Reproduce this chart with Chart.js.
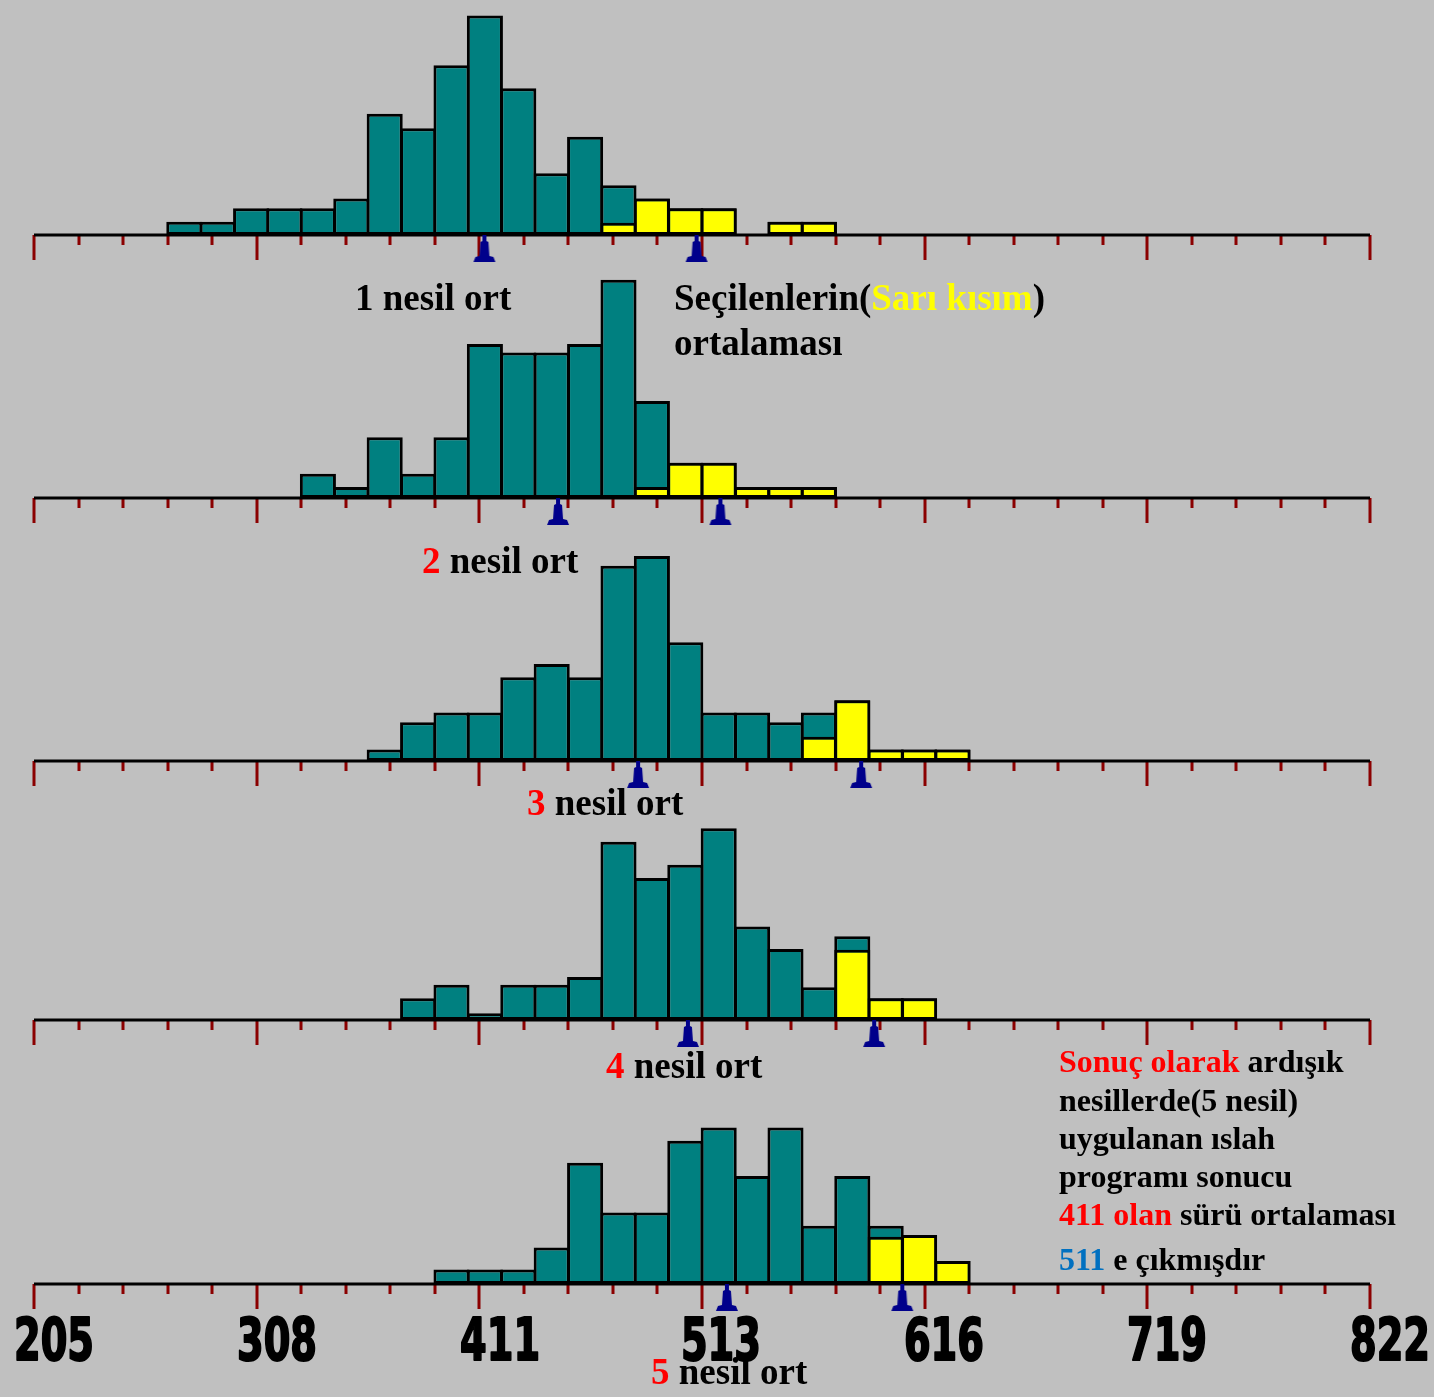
<!DOCTYPE html>
<html>
<head>
<meta charset="utf-8">
<title>Nesillere göre seleksiyon histogramları</title>
<script src="https://cdn.jsdelivr.net/npm/chart.js@4.4.1/dist/chart.umd.min.js"></script>
<style>
  html, body { margin: 0; padding: 0; }
  body {
    width: 1434px; height: 1397px; background: #c0c0c0;
    position: relative; overflow: hidden;
    font-family: "Liberation Serif", "Times New Roman", serif; font-weight: bold;
  }
  canvas { position: absolute; left: 0; }
  .lbl { position: absolute; white-space: nowrap; line-height: 1; color: #000; z-index: 5; }
  .big { font-size: 37px; }
  .small { font-size: 32px; }
  .red { color: #ff0000; }
  .yel { color: #ffff00; }
  .blue { color: #0070c0; }
</style>
</head>
<body>
<canvas id="gen1" width="1434" height="262" style="top:5px"></canvas>
<canvas id="gen2" width="1434" height="262" style="top:268px"></canvas>
<canvas id="gen3" width="1434" height="262" style="top:531px"></canvas>
<canvas id="gen4" width="1434" height="262" style="top:790px"></canvas>
<canvas id="gen5" width="1434" height="320" style="top:1054px"></canvas>

<div class="lbl big" style="left:355px;top:279px">1 nesil ort</div>
<div class="lbl big" style="left:674px;top:279px">Seçilenlerin(<span class="yel">Sarı kısım</span>)</div>
<div class="lbl big" style="left:674px;top:324px">ortalaması</div>
<div class="lbl big" style="left:422px;top:542px"><span class="red">2</span> nesil ort</div>
<div class="lbl big" style="left:527px;top:784px"><span class="red">3</span> nesil ort</div>
<div class="lbl big" style="left:606px;top:1047px"><span class="red">4</span> nesil ort</div>
<div class="lbl big" style="left:651px;top:1353px"><span class="red">5</span> nesil ort</div>

<div class="lbl small" style="left:1059px;top:1045px"><span class="red">Sonuç olarak</span> ardışık</div>
<div class="lbl small" style="left:1059px;top:1084px">nesillerde(5 nesil)</div>
<div class="lbl small" style="left:1059px;top:1122px">uygulanan ıslah</div>
<div class="lbl small" style="left:1059px;top:1160px">programı sonucu</div>
<div class="lbl small" style="left:1059px;top:1198px"><span class="red">411 olan</span> sürü ortalaması</div>
<div class="lbl small" style="left:1059px;top:1243px"><span class="blue">511</span> e çıkmışdır</div>

<script>
// x range of the histograms and number of bins
const xMin = 205, xMax = 822, binCount = 40;
const tickLabels = ["205", "308", "411", "513", "616", "719", "822"];

// bar heights per bin, first bin index = genNStart
// total = full bar height, selected = yellow part
const gen1Start = 4;
const gen1Total = [1.1, 1.1, 2.2, 2.2, 2.2, 3, 10, 8.8, 14, 18.1, 12.1, 5.1, 8.1, 4.1, 3, 2.2, 2.2, 0, 1.1, 1.1];
const gen1Selected = [0, 0, 0, 0, 0, 0, 0, 0, 0, 0, 0, 0, 0, 1, 3, 2.2, 2.2, 0, 1.1, 1.1];

const gen2Start = 8;
const gen2Total = [2, 0.9, 5, 2, 5, 12.7, 12, 12, 12.7, 18, 8, 2.9, 2.9, 0.9, 0.9, 0.9];
const gen2Selected = [0, 0, 0, 0, 0, 0, 0, 0, 0, 0, 0.9, 2.9, 2.9, 0.9, 0.9, 0.9];

const gen3Start = 10;
const gen3Total = [0.95, 3.2, 4, 4, 6.9, 8, 6.9, 16.1, 16.9, 9.8, 4, 4, 3.2, 4, 5, 0.95, 0.95, 0.95];
const gen3Selected = [0, 0, 0, 0, 0, 0, 0, 0, 0, 0, 0, 0, 0, 2, 5, 0.95, 0.95, 0.95];

const gen4Start = 11;
const gen4Total = [1.8, 2.9, 0.55, 2.9, 2.9, 3.55, 14.7, 11.7, 12.8, 15.8, 7.7, 5.85, 2.7, 6.9, 1.8, 1.8];
const gen4Selected = [0, 0, 0, 0, 0, 0, 0, 0, 0, 0, 0, 0, 0, 5.8, 1.8, 1.8];

const gen5Start = 12;
const gen5Total = [1.2, 1.2, 1.2, 3, 10, 5.9, 5.9, 11.8, 12.9, 8.9, 12.9, 4.8, 8.9, 4.8, 4.05, 1.9];
const gen5Selected = [0, 0, 0, 0, 0, 0, 0, 0, 0, 0, 0, 0, 0, 3.9, 4.05, 1.9];

// means shown by the blue pins: herd mean and mean of selected animals
const popMean = [413, 447, 484, 507, 525];
const selMean = [511, 522, 587, 593, 606];

const binWidth = (xMax - xMin) / binCount;

function toPoints(start, values) {
  return values.map((v, i) => ({ x: xMin + (start + i + 0.5) * binWidth, y: v || null }));
}

// blue pin marker, drawn in the lower half so its top sits on the axis
function makePin() {
  const c = document.createElement("canvas");
  c.width = 24;
  c.height = 60;
  const g = c.getContext("2d");
  g.fillStyle = "#00008b";
  g.beginPath();
  g.moveTo(10, 30);
  g.lineTo(14, 30);
  g.lineTo(14, 36);
  g.lineTo(16, 37);
  g.lineTo(17, 51);
  g.lineTo(21, 52);
  g.lineTo(23, 57);
  g.lineTo(1, 57);
  g.lineTo(3, 52);
  g.lineTo(7, 51);
  g.lineTo(8, 37);
  g.lineTo(10, 36);
  g.closePath();
  g.fill();
  return c;
}
const pinImage = makePin();

// axis line, red ruler ticks and (bottom chart only) the number labels
const rulerPlugin = {
  id: "ruler",
  beforeDatasetsDraw(chart, args, opts) {
    const { ctx } = chart;
    const x = chart.scales.x;
    const y0 = chart.scales.y.getPixelForValue(0);
    ctx.save();
    ctx.strokeStyle = "#8b0000";
    ctx.lineWidth = 3;
    for (let j = 0; j <= 30; j++) {
      const px = Math.round(x.getPixelForValue(xMin + j * (xMax - xMin) / 30));
      const len = j % 5 === 0 ? 25 : 10;
      ctx.beginPath();
      ctx.moveTo(px, y0);
      ctx.lineTo(px, y0 + len);
      ctx.stroke();
    }
    ctx.strokeStyle = "#000";
    ctx.beginPath();
    ctx.moveTo(x.left, y0);
    ctx.lineTo(x.right, y0);
    ctx.stroke();

    if (opts.labels) {
      ctx.fillStyle = "#000";
      ctx.strokeStyle = "#000";
      ctx.lineWidth = 2;
      ctx.lineJoin = "round";
      ctx.font = "bold 58px 'Liberation Sans Narrow', 'DejaVu Sans Condensed', 'Liberation Sans', sans-serif";
      ctx.textAlign = "left";
      ctx.textBaseline = "alphabetic";
      const sx = 80 / ctx.measureText("205").width;
      tickLabels.forEach(t => {
        const px = x.getPixelForValue(Number(t));
        ctx.save();
        ctx.translate(px - 20, y0 + 76);
        ctx.scale(sx, 1);
        ctx.fillText(t, 0, 0);
        ctx.strokeText(t, 0, 0);
        ctx.restore();
      });
    }
    ctx.restore();
  }
};

function drawGeneration(id, start, total, selected, g, withLabels) {
  const barStyle = {
    type: "bar",
    grouped: false,
    borderColor: "#000",
    borderWidth: 3,
    borderSkipped: false,
    barPercentage: 1.08,
    categoryPercentage: 1
  };
  new Chart(document.getElementById(id), {
    type: "bar",
    data: {
      datasets: [
        {
          type: "scatter",
          data: [{ x: popMean[g], y: 0 }, { x: selMean[g], y: 0 }],
          pointStyle: pinImage,
          clip: false,
          order: 0
        },
        Object.assign({}, barStyle, { data: toPoints(start, selected), backgroundColor: "#ffff00", order: 1 }),
        Object.assign({}, barStyle, { data: toPoints(start, total), backgroundColor: "#008080", order: 2 })
      ]
    },
    options: {
      responsive: false,
      animation: false,
      devicePixelRatio: 1,
      events: [],
      layout: { padding: { left: 34, right: 64, top: 0, bottom: withLabels ? 90 : 32 } },
      plugins: {
        legend: { display: false },
        tooltip: { enabled: false },
        ruler: { labels: withLabels }
      },
      scales: {
        x: {
          type: "linear",
          min: xMin,
          max: xMax,
          offset: false,
          display: false,
          afterBuildTicks: axis => {
            axis.ticks = tickLabels.map(t => ({ value: Number(t) }));
          }
        },
        y: { type: "linear", min: 0, max: 18.55, display: false }
      }
    },
    plugins: [rulerPlugin]
  });
}

drawGeneration("gen1", gen1Start, gen1Total, gen1Selected, 0, false);
drawGeneration("gen2", gen2Start, gen2Total, gen2Selected, 1, false);
drawGeneration("gen3", gen3Start, gen3Total, gen3Selected, 2, false);
drawGeneration("gen4", gen4Start, gen4Total, gen4Selected, 3, false);
drawGeneration("gen5", gen5Start, gen5Total, gen5Selected, 4, true);
</script>
</body>
</html>
